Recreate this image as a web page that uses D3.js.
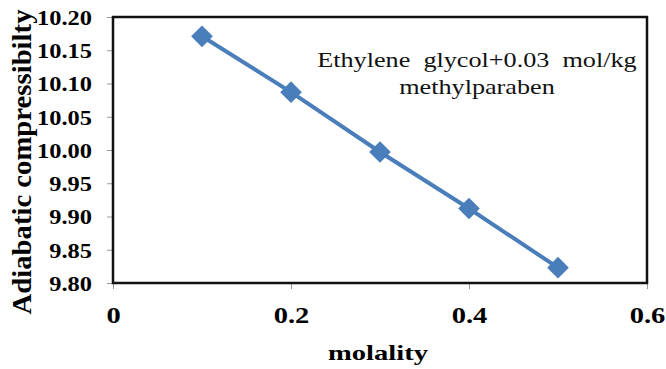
<!DOCTYPE html>
<html>
<head>
<meta charset="utf-8">
<script src="https://cdn.jsdelivr.net/npm/d3@7"></script>
<style>
  body { margin: 0; background: #fff; }
</style>
</head>
<body>
<script>
// data
var molality = [0.1, 0.2, 0.3, 0.4, 0.5];
var compress = [10.171, 10.087, 9.997, 9.912, 9.823];
var xTicks = [0, 0.2, 0.4, 0.6];
var yTicks = [9.80, 9.85, 9.90, 9.95, 10.00, 10.05, 10.10, 10.15, 10.20];
var noteLines = ["Ethylene  glycol+0.03  mol/kg", "methylparaben"];

var W = 666, H = 369;
var plot = { left: 113, right: 647, top: 17, bottom: 283 };
var BLUE = "#4a7ebb";
var SERIF = '"Liberation Serif", "Times New Roman", Times, "DejaVu Serif", serif';

var svg = d3.select("body").append("svg").attr("width", W).attr("height", H)
	.style("font-family", SERIF);

var x = d3.scaleLinear().domain([0, 0.6]).range([plot.left, plot.right]);
var y = d3.scaleLinear().domain([9.80, 10.20]).range([plot.bottom, plot.top]);

// the picture is a bit wider than tall, so text is stretched sideways
var stretch = function(sel, k){
	sel.each(function(){
		var len = this.getComputedTextLength();
		d3.select(this).attr("textLength", len * k).attr("lengthAdjust", "spacingAndGlyphs");
	});
};

// axes
var xAxis = svg.append("g")
	.attr("transform", "translate(0," + plot.bottom + ")")
	.call(d3.axisBottom(x).tickValues(xTicks).tickSize(6).tickPadding(0)
		.tickFormat(d => d === 0 ? "0" : d3.format(".1f")(d)));
var yAxis = svg.append("g")
	.attr("transform", "translate(" + plot.left + ",0)")
	.call(d3.axisLeft(y).tickValues(yTicks).tickSize(6).tickPadding(15)
		.tickFormat(d3.format(".2f")));

[xAxis, yAxis].forEach(function(g){
	g.attr("font-family", SERIF);
	g.select(".domain").remove();
	g.selectAll(".tick line").attr("stroke", "#999").attr("stroke-width", 1);
	g.selectAll(".tick text")
		.attr("fill", "#000")
		.style("font-weight", "bold");
});
xAxis.selectAll(".tick text").attr("y", 40).attr("dy", null).style("font-size", "23px");
yAxis.selectAll(".tick text").attr("dy", "0.34em").style("font-size", "22px");
stretch(xAxis.selectAll(".tick text"), 1.24);
stretch(yAxis.selectAll(".tick text"), 1.11);

// plot border
svg.append("rect")
	.attr("x", plot.left)
	.attr("y", plot.top)
	.attr("width", plot.right - plot.left)
	.attr("height", plot.bottom - plot.top)
	.attr("fill", "none")
	.attr("stroke", "#111")
	.attr("stroke-width", 2.5);

// series
var pts = molality.map((m, i) => [x(m), y(compress[i])]);
svg.append("path")
	.attr("d", d3.line()(pts))
	.attr("fill", "none")
	.attr("stroke", BLUE)
	.attr("stroke-width", 4);

svg.append("g").selectAll("path")
	.data(pts)
	.enter()
	.append("path")
	.attr("transform", d => "translate(" + d[0] + "," + d[1] + ")")
	.attr("d", d3.symbol().type(d3.symbolDiamond2).size(300))
	.attr("fill", BLUE);

// note
var note = svg.append("g").selectAll("text")
	.data(noteLines)
	.enter()
	.append("text")
	.attr("x", 477)
	.attr("y", (d, i) => 66.5 + i * 27)
	.attr("text-anchor", "middle")
	.style("font-size", "22px")
	.style("white-space", "pre")
	.attr("fill", "#111")
	.text(d => d);
stretch(note, 1.19);

// axis titles
var xTitle = svg.append("text")
	.attr("x", 378)
	.attr("y", 360)
	.attr("text-anchor", "middle")
	.style("font-size", "22px")
	.style("font-weight", "bold")
	.text("molality");
stretch(xTitle, 1.3);

svg.append("text")
	.attr("transform", "translate(31,162) rotate(-90)")
	.attr("text-anchor", "middle")
	.attr("textLength", 305)
	.attr("lengthAdjust", "spacingAndGlyphs")
	.style("font-size", "27px")
	.style("font-weight", "bold")
	.text("Adiabatic compressibilty");
</script>
</body>
</html>
